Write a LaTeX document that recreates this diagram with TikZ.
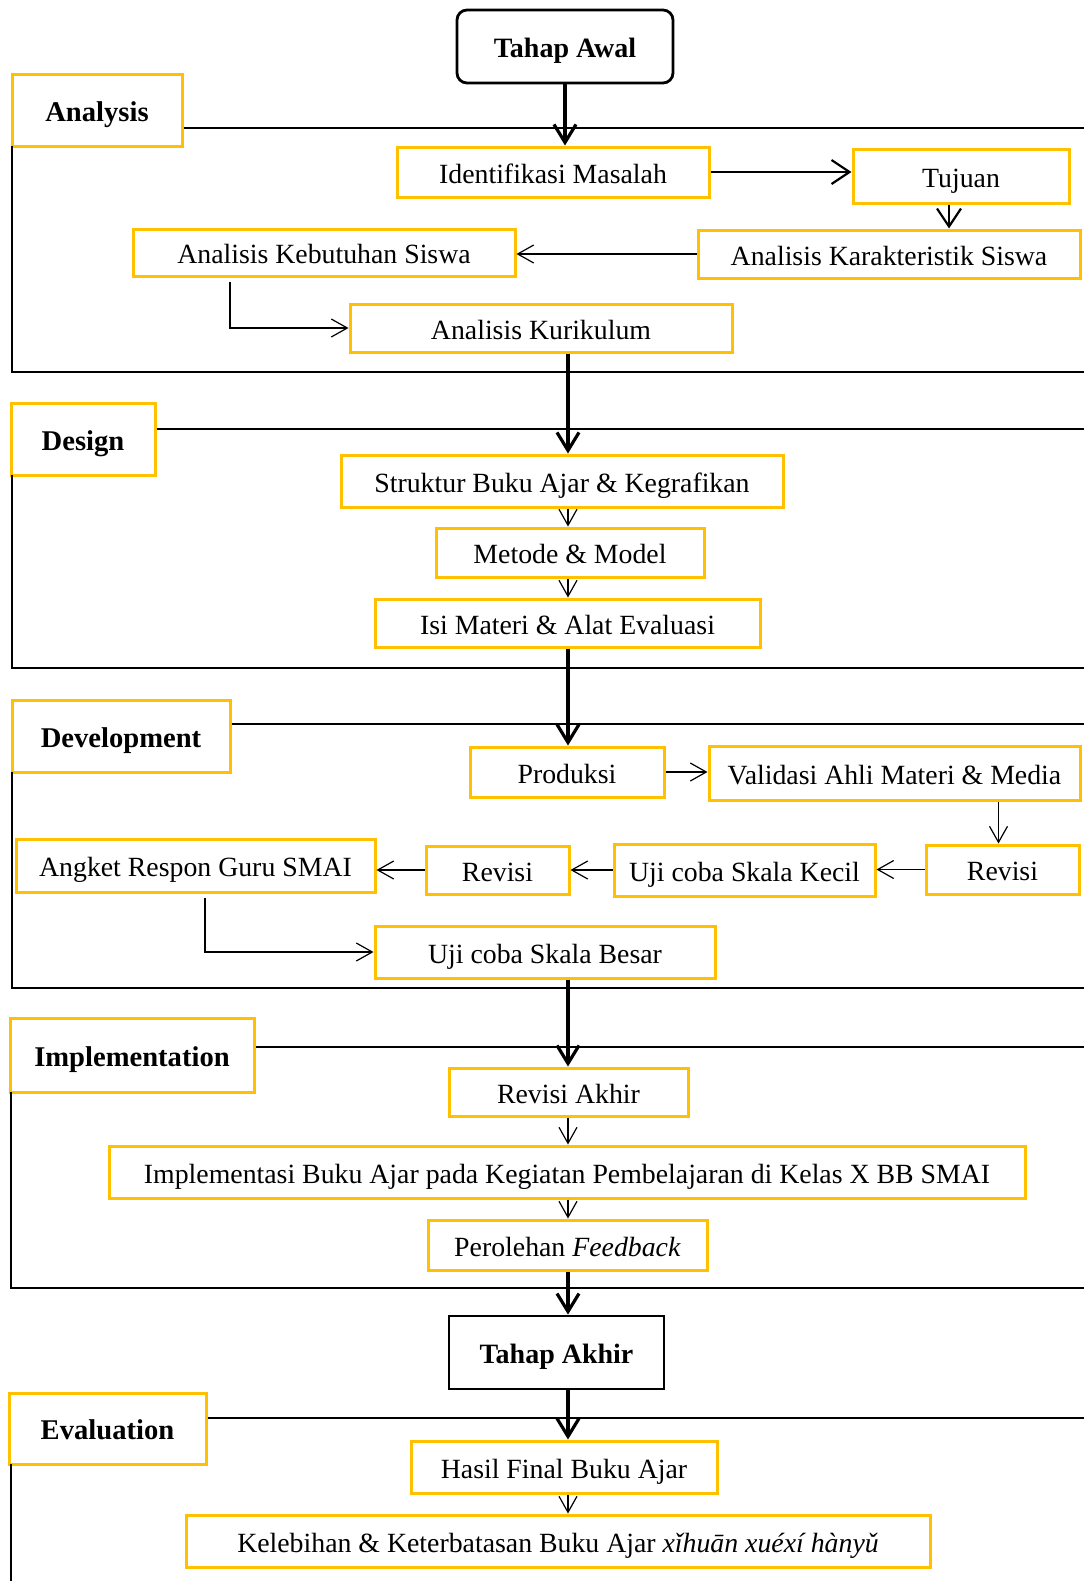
\documentclass[tikz,border=0pt]{standalone}
\usepackage{fontspec}
\setmainfont{Liberation Serif}
\usetikzlibrary{arrows.meta}
\definecolor{boxyellow}{HTML}{FFC000}
\tikzset{
  ybox/.style={draw=boxyellow, line width=1.5pt, inner sep=0pt, align=center,
    text height=11pt, text depth=0pt,
    font=\fontsize{13.9}{16}\selectfont},
  lbl/.style={ybox, text height=11pt, font=\fontsize{14.3}{16}\selectfont\bfseries},
  blackbox/.style={draw=black, line width=1.4pt, inner sep=0pt,
    text height=10.6pt, text depth=0pt,
    font=\fontsize{14}{16}\selectfont\bfseries},
  frame/.style={line width=1.4pt, draw=black},
  thickarr/.style={line width=1.6pt, -{Straight Barb[length=9pt,width=11pt,line width=1.6pt]}},
  medarr/.style={line width=1.1pt, -{Straight Barb[length=9pt,width=12pt,line width=1.1pt]}},
  thinarr/.style={line width=0.6pt, -{Straight Barb[length=8pt,width=9pt,line width=0.6pt]}}
}
\begin{document}
\begin{tikzpicture}[x=0.5pt,y=-0.5pt]
\useasboundingbox[fill=white] (0,0) rectangle (1084,1581);
\coordinate (spine) at (568,0);

% Tahap Awal
\node[blackbox, rounded corners=5pt, minimum width=108pt, minimum height=36.5pt] (tawal) at (565,46.5) {Tahap Awal};

% Analysis
\node[lbl, minimum width=85pt, minimum height=36pt] (lblA) at (97,110) {Analysis};
\draw[frame] (lblA.east |- 0,128) -- (1084,128);
\draw[frame] (12,146) -- (12,372) -- (1084,372);
\node[ybox, minimum width=156pt, minimum height=25pt] (idm) at (553,172) {Identifikasi Masalah};
\node[ybox, minimum width=108pt, minimum height=27pt] (tujuan) at (961,176) {Tujuan};
\node[ybox, minimum width=191pt, minimum height=24pt] (akar) at (889,254) {Analisis Karakteristik Siswa};
\node[ybox, minimum width=191pt, minimum height=23.5pt] (akeb) at (324,252.5) {Analisis Kebutuhan Siswa};
\node[ybox, minimum width=191pt, minimum height=24pt] (akur) at (541,328) {Analisis Kurikulum};

\draw[thickarr] (tawal.south) -- (tawal.south |- idm.north);
\draw[medarr] (idm.east) -- (idm.east -| tujuan.west);
\draw[medarr] ([xshift=-6pt]tujuan.south) -- ([xshift=-6pt]tujuan.south |- akar.north);
\draw[thinarr] (akar.west) -- (akar.west -| akeb.east);
\draw[thinarr] ([xshift=-47pt,yshift=-2pt]akeb.south) |- (akur.west);

% Design
\node[lbl, minimum width=72pt, minimum height=36pt] (lblD) at (83,439) {Design};
\draw[frame] (lblD.east |- 0,429) -- (1084,429);
\draw[frame] (12,475) -- (12,668) -- (1084,668);
\node[ybox, minimum width=221pt, minimum height=26pt] (struktur) at (562,481) {Struktur Buku Ajar \& Kegrafikan};
\node[ybox, minimum width=134pt, minimum height=24.5pt] (metode) at (570,552.5) {Metode \& Model};
\node[ybox, minimum width=192.5pt, minimum height=24pt] (isi) at (567.5,623) {Isi Materi \& Alat Evaluasi};

\draw[thickarr] (akur.south -| spine) -- (struktur.north -| spine);
\draw[thinarr] (struktur.south -| spine) -- (metode.north -| spine);
\draw[thinarr] (metode.south -| spine) -- (isi.north -| spine);

% Development
\node[lbl, minimum width=109pt, minimum height=36pt] (lblDev) at (121,736) {Development};
\draw[frame] (lblDev.east |- 0,724) -- (1084,724);
\draw[frame] (12,772) -- (12,988) -- (1084,988);
\node[ybox, minimum width=97pt, minimum height=25pt] (produksi) at (567,772) {Produksi};
\node[ybox, minimum width=185.5pt, minimum height=27pt] (validasi) at (894.5,773) {Validasi Ahli Materi \& Media};
\node[ybox, minimum width=76.5pt, minimum height=24.5pt] (revisiR) at (1002.5,869.5) {Revisi};
\node[ybox, minimum width=130.5pt, minimum height=26pt] (ujikecil) at (744.5,870) {Uji coba Skala Kecil};
\node[ybox, minimum width=71.5pt, minimum height=24pt] (revisiM) at (497.5,870) {Revisi};
\node[ybox, minimum width=179.5pt, minimum height=26.5pt] (angket) at (195.5,865.5) {Angket Respon Guru SMAI};
\node[ybox, minimum width=170pt, minimum height=26pt] (besar) at (545,952) {Uji coba Skala Besar};

\draw[thickarr] (isi.south -| spine) -- (produksi.north -| spine);
\draw[thinarr] (produksi.east) -- (produksi.east -| validasi.west);
\draw[thinarr] ([xshift=-2pt]validasi.south -| revisiR.north) -- ([xshift=-2pt]revisiR.north);
\draw[thinarr] (revisiR.west) -- (revisiR.west -| ujikecil.east);
\draw[thinarr] (ujikecil.west) -- (ujikecil.west -| revisiM.east);
\draw[thinarr] (revisiM.west) -- (revisiM.west -| angket.east);
\draw[thinarr] ([xshift=4.75pt,yshift=-2pt]angket.south) |- (besar.west);

% Implementation
\node[lbl, minimum width=122pt, minimum height=37pt] (lblI) at (132,1055) {Implementation};
\draw[frame] (lblI.east |- 0,1047) -- (1084,1047);
\draw[frame] (11,1092) -- (11,1288) -- (1084,1288);
\node[ybox, minimum width=119.5pt, minimum height=24pt] (revakhir) at (568.5,1092) {Revisi Akhir};
\node[ybox, minimum width=458pt, minimum height=26pt] (impl) at (567,1172) {Implementasi Buku Ajar pada Kegiatan Pembelajaran di Kelas X BB SMAI};
\node[ybox, minimum width=139.5pt, minimum height=25pt] (perolehan) at (567.5,1245) {Perolehan \textit{Feedback}};

\draw[thickarr] (besar.south -| spine) -- (revakhir.north -| spine);
\draw[thinarr] (revakhir.south -| spine) -- (impl.north -| spine);
\draw[thinarr] (impl.south -| spine) -- (perolehan.north -| spine);

% Tahap Akhir
\node[blackbox, minimum width=107.5pt, minimum height=36.5pt] (takhir) at (556.5,1352.5) {Tahap Akhir};
\draw[thickarr] (perolehan.south -| spine) -- (takhir.north -| spine);

% Evaluation
\node[lbl, minimum width=98.5pt, minimum height=35.5pt] (lblE) at (107.5,1428.5) {Evaluation};
\draw[frame] (lblE.east |- 0,1418) -- (1084,1418);
\draw[frame] (11,1464) -- (11,1581);
\node[ybox, minimum width=153pt, minimum height=26pt] (hasil) at (564,1467) {Hasil Final Buku Ajar};
\node[ybox, minimum width=372pt, minimum height=26pt] (kel) at (558,1541) {Kelebihan \& Keterbatasan Buku Ajar \textit{xǐhuān xuéxí hànyǔ}};

\draw[thickarr] (takhir.south -| spine) -- (hasil.north -| spine);
\draw[thinarr] (hasil.south -| spine) -- (kel.north -| spine);
\end{tikzpicture}
\end{document}
